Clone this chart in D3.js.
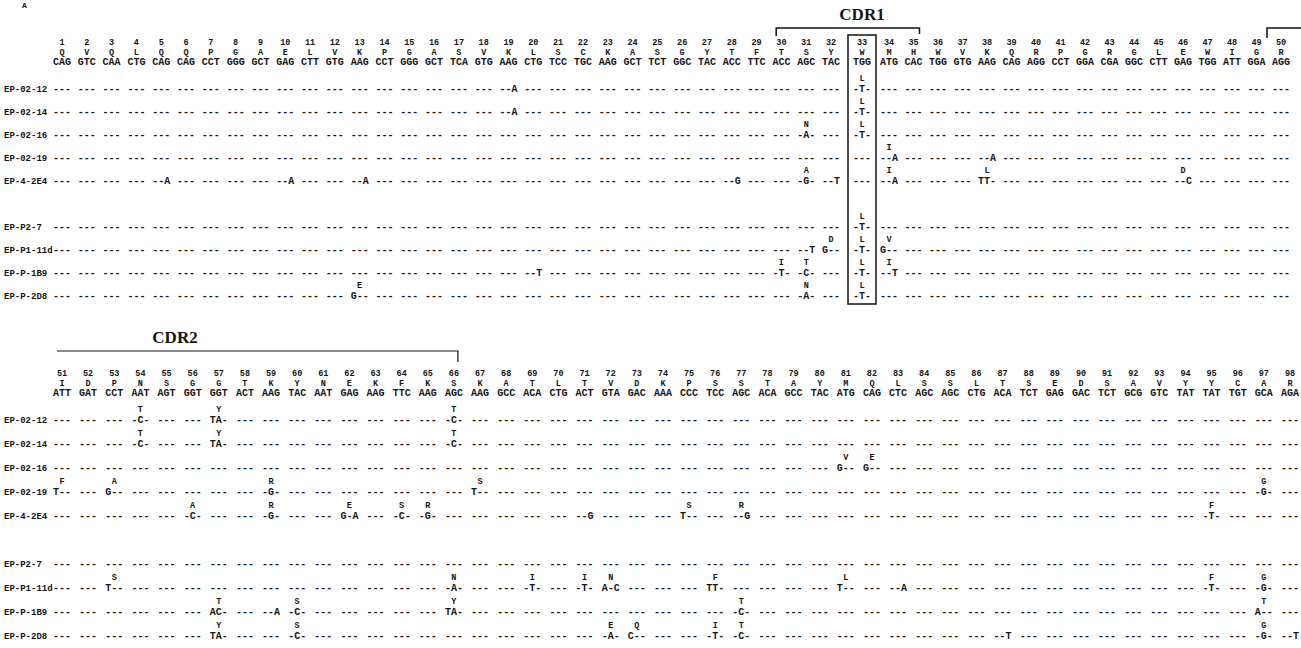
<!DOCTYPE html>
<html>
<head>
<meta charset="utf-8">
<script src="https://cdn.jsdelivr.net/npm/d3@7/dist/d3.min.js"></script>
<style>
  body { margin: 0; background: #fff; }
  #chart { width: 1301px; height: 648px; }
  text { font-family: "Liberation Mono", "DejaVu Sans Mono", monospace; font-weight: bold; fill: #151515; }
  .cdr { font-family: "Liberation Serif", "DejaVu Serif", serif; font-size: 17px; }
</style>
</head>
<body>
<div id="chart"></div>
<script>
// clones, in display order ("" = blank spacer row)
const clones = ["EP-02-12", "EP-02-14", "EP-02-16", "EP-02-19", "EP-4-2E4", "", "EP-P2-7", "EP-P1-11d", "EP-P-1B9", "EP-P-2D8"];

// block 1: residues 1-50
const numbersA = [1, 2, 3, 4, 5, 6, 7, 8, 9, 10, 11, 12, 13, 14, 15, 16, 17, 18, 19, 20, 21, 22, 23, 24, 25,
  26, 27, 28, 29, 30, 31, 32, 33, 34, 35, 36, 37, 38, 39, 40, 41, 42, 43, 44, 45, 46, 47, 48, 49, 50];
const residuesA = ["Q", "V", "Q", "L", "Q", "Q", "P", "G", "A", "E", "L", "V", "K", "P", "G", "A", "S", "V", "K", "L", "S", "C", "K", "A", "S",
  "G", "Y", "T", "F", "T", "S", "Y", "W", "M", "H", "W", "V", "K", "Q", "R", "P", "G", "R", "G", "L", "E", "W", "I", "G", "R"];
const codonsA = ["CAG", "GTC", "CAA", "CTG", "CAG", "CAG", "CCT", "GGG", "GCT", "GAG", "CTT", "GTG", "AAG", "CCT", "GGG", "GCT", "TCA", "GTG", "AAG", "CTG", "TCC", "TGC", "AAG", "GCT", "TCT",
  "GGC", "TAC", "ACC", "TTC", "ACC", "AGC", "TAC", "TGG", "ATG", "CAC", "TGG", "GTG", "AAG", "CAG", "AGG", "CCT", "GGA", "CGA", "GGC", "CTT", "GAG", "TGG", "ATT", "GGA", "AGG"];
// [clone, residue number, codon change, new residue]
const mutationsA = [
  ["EP-02-12", 19, "--A", ""], ["EP-02-12", 33, "-T-", "L"],
  ["EP-02-14", 19, "--A", ""], ["EP-02-14", 33, "-T-", "L"],
  ["EP-02-16", 31, "-A-", "N"], ["EP-02-16", 33, "-T-", "L"],
  ["EP-02-19", 34, "--A", "I"], ["EP-02-19", 38, "--A", ""],
  ["EP-4-2E4", 5, "--A", ""], ["EP-4-2E4", 10, "--A", ""], ["EP-4-2E4", 13, "--A", ""], ["EP-4-2E4", 28, "--G", ""],
  ["EP-4-2E4", 31, "-G-", "A"], ["EP-4-2E4", 32, "--T", ""], ["EP-4-2E4", 34, "--A", "I"], ["EP-4-2E4", 38, "TT-", "L"],
  ["EP-4-2E4", 46, "--C", "D"],
  ["EP-P2-7", 33, "-T-", "L"],
  ["EP-P1-11d", 31, "--T", ""], ["EP-P1-11d", 32, "G--", "D"], ["EP-P1-11d", 33, "-T-", "L"], ["EP-P1-11d", 34, "G--", "V"],
  ["EP-P-1B9", 20, "--T", ""], ["EP-P-1B9", 30, "-T-", "I"], ["EP-P-1B9", 31, "-C-", "T"], ["EP-P-1B9", 33, "-T-", "L"],
  ["EP-P-1B9", 34, "--T", "I"],
  ["EP-P-2D8", 13, "G--", "E"], ["EP-P-2D8", 31, "-A-", "N"], ["EP-P-2D8", 33, "-T-", "L"]
];

// block 2: residues 51-98
const numbersB = [51, 52, 53, 54, 55, 56, 57, 58, 59, 60, 61, 62, 63, 64, 65, 66, 67, 68, 69, 70, 71, 72, 73, 74,
  75, 76, 77, 78, 79, 80, 81, 82, 83, 84, 85, 86, 87, 88, 89, 90, 91, 92, 93, 94, 95, 96, 97, 98];
const residuesB = ["I", "D", "P", "N", "S", "G", "G", "T", "K", "Y", "N", "E", "K", "F", "K", "S", "K", "A", "T", "L", "T", "V", "D", "K",
  "P", "S", "S", "T", "A", "Y", "M", "Q", "L", "S", "S", "L", "T", "S", "E", "D", "S", "A", "V", "Y", "Y", "C", "A", "R"];
const codonsB = ["ATT", "GAT", "CCT", "AAT", "AGT", "GGT", "GGT", "ACT", "AAG", "TAC", "AAT", "GAG", "AAG", "TTC", "AAG", "AGC", "AAG", "GCC", "ACA", "CTG", "ACT", "GTA", "GAC", "AAA",
  "CCC", "TCC", "AGC", "ACA", "GCC", "TAC", "ATG", "CAG", "CTC", "AGC", "AGC", "CTG", "ACA", "TCT", "GAG", "GAC", "TCT", "GCG", "GTC", "TAT", "TAT", "TGT", "GCA", "AGA"];
const mutationsB = [
  ["EP-02-12", 54, "-C-", "T"], ["EP-02-12", 57, "TA-", "Y"], ["EP-02-12", 66, "-C-", "T"],
  ["EP-02-14", 54, "-C-", "T"], ["EP-02-14", 57, "TA-", "Y"], ["EP-02-14", 66, "-C-", "T"],
  ["EP-02-16", 81, "G--", "V"], ["EP-02-16", 82, "G--", "E"],
  ["EP-02-19", 51, "T--", "F"], ["EP-02-19", 53, "G--", "A"], ["EP-02-19", 59, "-G-", "R"], ["EP-02-19", 67, "T--", "S"],
  ["EP-02-19", 97, "-G-", "G"],
  ["EP-4-2E4", 56, "-C-", "A"], ["EP-4-2E4", 59, "-G-", "R"], ["EP-4-2E4", 62, "G-A", "E"], ["EP-4-2E4", 64, "-C-", "S"],
  ["EP-4-2E4", 65, "-G-", "R"], ["EP-4-2E4", 71, "--G", ""], ["EP-4-2E4", 75, "T--", "S"], ["EP-4-2E4", 77, "--G", "R"],
  ["EP-4-2E4", 95, "-T-", "F"],
  ["EP-P1-11d", 53, "T--", "S"], ["EP-P1-11d", 66, "-A-", "N"], ["EP-P1-11d", 69, "-T-", "I"], ["EP-P1-11d", 71, "-T-", "I"],
  ["EP-P1-11d", 72, "A-C", "N"], ["EP-P1-11d", 76, "TT-", "F"], ["EP-P1-11d", 81, "T--", "L"], ["EP-P1-11d", 83, "--A", ""],
  ["EP-P1-11d", 95, "-T-", "F"], ["EP-P1-11d", 97, "-G-", "G"],
  ["EP-P-1B9", 57, "AC-", "T"], ["EP-P-1B9", 59, "--A", ""], ["EP-P-1B9", 60, "-C-", "S"], ["EP-P-1B9", 66, "TA-", "Y"],
  ["EP-P-1B9", 77, "-C-", "T"], ["EP-P-1B9", 97, "A--", "T"],
  ["EP-P-2D8", 57, "TA-", "Y"], ["EP-P-2D8", 60, "-C-", "S"], ["EP-P-2D8", 72, "-A-", "E"], ["EP-P-2D8", 73, "C--", "Q"],
  ["EP-P-2D8", 76, "-T-", "I"], ["EP-P-2D8", 77, "-C-", "T"], ["EP-P-2D8", 87, "--T", ""], ["EP-P-2D8", 97, "-G-", "G"],
  ["EP-P-2D8", 98, "--T", ""]
];

const width = 1301, height = 648;

const svg = d3.select("#chart")
  .append("svg")
  .attr("width", width)
  .attr("height", height)
  .attr("viewBox", `0 0 ${width} ${height}`);

svg.append("text")
  .attr("x", 22).attr("y", 8)
  .style("font-size", "8px")
  .text("A");

const xA = d3.scaleLinear().domain([1, 32, 33, 34, 50]).range([62, 831, 862, 889, 1281]);
const xB = d3.scaleLinear().domain([51, 98]).range([62, 1290]);

function drawBlock(top, x, numbers, residues, codons, mutations, step) {
  const g = svg.append("g").attr("transform", `translate(0,${top})`);
  const y = d3.scalePoint().domain(clones).range([47, 47 + step * (clones.length - 1)]);

  g.selectAll(".num").data(numbers).join("text")
    .attr("class", "num")
    .attr("x", d => x(d)).attr("y", 0)
    .attr("text-anchor", "middle")
    .style("font-size", "8.5px")
    .text(d => d);

  g.selectAll(".res").data(residues).join("text")
    .attr("class", "res")
    .attr("x", (d, i) => x(numbers[i])).attr("y", 10)
    .attr("text-anchor", "middle")
    .style("font-size", "8.5px")
    .text(d => d);

  g.selectAll(".codon").data(codons).join("text")
    .attr("class", "codon")
    .attr("x", (d, i) => x(numbers[i])).attr("y", 20)
    .attr("text-anchor", "middle")
    .style("font-size", "10px")
    .text(d => d);

  const rows = clones.filter(c => c !== "");
  rows.forEach(clone => {
    const muts = new Map(mutations.filter(m => m[0] === clone).map(m => [m[1], m]));
    const row = g.append("g");
    row.append("text")
      .attr("x", 4).attr("y", y(clone))
      .style("font-size", "9px")
      .text(clone);
    row.selectAll(".seq").data(numbers).join("text")
      .attr("class", "seq")
      .attr("x", d => x(d)).attr("y", y(clone))
      .attr("text-anchor", "middle")
      .style("font-size", "10px")
      .text(d => muts.has(d) ? muts.get(d)[2] : "---");
    row.selectAll(".sub").data(mutations.filter(m => m[0] === clone && m[3])).join("text")
      .attr("class", "sub")
      .attr("x", d => x(d[1])).attr("y", y(clone) - 11)
      .attr("text-anchor", "middle")
      .style("font-size", "8.5px")
      .text(d => d[3]);
  });
  return { g, y };
}

// block 1 with CDR1 bracket and the boxed residue 33
const blockA = drawBlock(45, xA, numbersA, residuesA, codonsA, mutationsA, 23);

svg.append("text").attr("class", "cdr")
  .attr("x", xA(33)).attr("y", 20)
  .attr("text-anchor", "middle")
  .text("CDR1");

svg.append("path")
  .attr("d", `M${xA(31) - 30},36 V28 H${xA(35) + 6} V34`)
  .attr("fill", "none").attr("stroke", "#111").attr("stroke-width", 1.5);

svg.append("path")
  .attr("d", `M${xA(50) - 14},38 V28 H${width}`)
  .attr("fill", "none").attr("stroke", "#111").attr("stroke-width", 1.5);

const lastRowA = 45 + blockA.y("EP-P-2D8");
svg.append("rect")
  .attr("x", xA(33) - 14).attr("y", 35)
  .attr("width", 28).attr("height", lastRowA + 5 - 35)
  .attr("fill", "none").attr("stroke", "#111").attr("stroke-width", 1.5);

// block 2 with CDR2 bracket
const blockB = drawBlock(376, xB, numbersB, residuesB, codonsB, mutationsB, 24);

svg.append("text").attr("class", "cdr")
  .attr("x", 175).attr("y", 343)
  .attr("text-anchor", "middle")
  .text("CDR2");

svg.append("path")
  .attr("d", `M${xB(51) - 5},351 H${xB(66) + 4} V362`)
  .attr("fill", "none").attr("stroke", "#111").attr("stroke-width", 1.2);
</script>
</body>
</html>
